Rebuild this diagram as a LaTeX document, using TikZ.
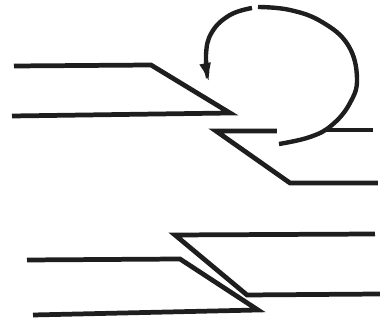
\documentclass[tikz,border=0pt]{standalone}
\usepackage{tikz}
\usetikzlibrary{arrows.meta}
\definecolor{ink}{RGB}{30,30,30}
\tikzset{
  strip/.style={line width=2.7pt,draw=ink,line join=miter},
  loop/.style={line width=2.5pt,draw=ink},
  looparrow/.style={loop,-{Latex[length=0.4cm,width=0.24cm]}}
}
\begin{document}
\begin{tikzpicture}[x=0.02cm,y=-0.02cm]
  \useasboundingbox (0,0) rectangle (380,320);

  % upper pair, pulled apart
  \draw[strip] (14,66) -- (151,65) -- (230,113) -- (12,116);
  \draw[strip] (277,131) -- (216,131) -- (290,183) -- (378,183);
  \draw[strip] (326,130) -- (373,130);

  % turning arrow
  \draw[loop] plot[smooth,tension=0.7] coordinates {
    (279,144) (310,137) (332,125) (350,103) (357,78)
    (348,45) (322,22) (290,10) (258,7)
  };
  \draw[looparrow] plot[smooth,tension=0.7] coordinates {
    (252,8) (230,15) (212,32) (206,55) (209,83)
  };

  % lower pair, joined
  \draw[strip] (375,234) -- (175,235) -- (247,295) -- (380,294);
  \draw[strip] (27,260) -- (180,259) -- (258,310) -- (33,315);
\end{tikzpicture}
\end{document}
